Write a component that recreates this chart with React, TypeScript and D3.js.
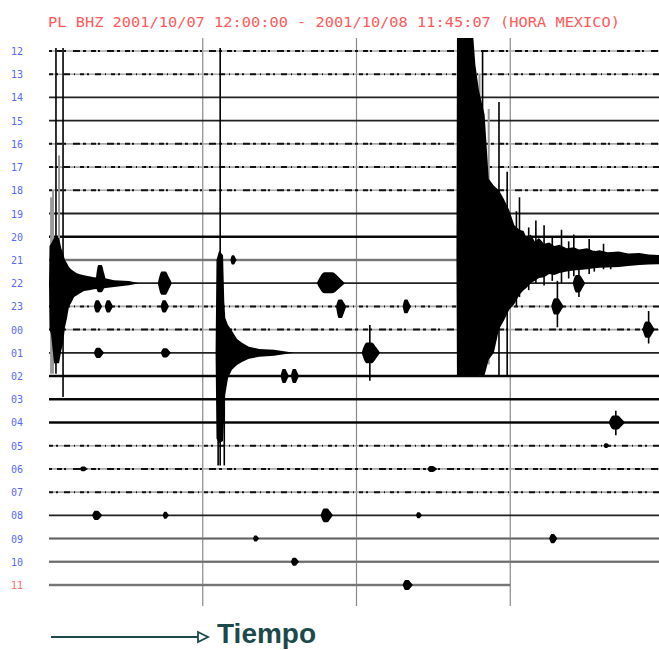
import { useEffect, useRef } from "react"
import * as d3 from "d3"

// hour label of each helicorder line (one line = 60 minutes)
const hours = ["12", "13", "14", "15", "16", "17", "18", "19", "20", "21", "22", "23",
  "00", "01", "02", "03", "04", "05", "06", "07", "08", "09", "10", "11"]
// background noise level of each line: 0 quiet, 1 spotty, 2 steady, 3 strong
const traceNoise = [1, 1, 2, 2, 1, 1, 1, 2, 3, 0, 2, 1, 1, 2, 3, 3, 3, 1, 1, 1, 2, 0, 0, 0]
const lastLineEnd = 45 // minutes recorded on the last line (until 11:45:07)
const gridMinutes = [15, 30, 45]

// big earthquakes: envelope [minute, amplitude up, amplitude down] in line spacings
const quakeLines = ["22", "01", "21"]
const quakeA = [
  [0, 0, 0], [0.05, 1.6, 2.0], [0.2, 1.7, 2.2], [0.49, 1.95, 3.45], [0.98, 1.95, 3.45],
  [1.2, 1.5, 2.9], [1.37, 1.3, 2.6], [1.56, 1.0, 1.9], [1.76, 0.86, 1.5], [1.95, 0.7, 1.0],
  [2.15, 0.6, 0.86], [2.45, 0.5, 0.6], [2.73, 0.43, 0.52], [3.0, 0.38, 0.45], [3.41, 0.34, 0.34],
  [3.9, 0.3, 0.3], [4.39, 0.26, 0.26], [5.37, 0.22, 0.22], [6.34, 0.13, 0.17], [7.8, 0.09, 0.09],
  [8.8, 0, 0],
]
const quakeB = [
  [16.25, 0, 0], [16.34, 4.0, 3.7], [16.6, 4.4, 3.9], [16.98, 4.2, 3.8], [17.1, 2.2, 2.6],
  [17.2, 1.5, 1.8], [17.46, 1.2, 1.1], [17.85, 0.95, 0.73], [18.34, 0.6, 0.52], [18.83, 0.43, 0.39],
  [19.5, 0.26, 0.26], [20.5, 0.17, 0.17], [21.95, 0.13, 0.13], [23.9, 0, 0],
]
const quakeD = [
  [39.75, 0, 0], [39.8, 9.56, 5.0], [41.4, 9.56, 5.0], [41.6, 8.4, 5.0], [41.95, 7.3, 5.0],
  [42.5, 6.25, 4.95], [42.9, 3.5, 4.3], [43.4, 3.2, 4.0], [43.9, 3.0, 3.0], [44.4, 2.6, 2.6],
  [44.9, 2.15, 2.15], [45.4, 1.5, 1.9], [45.9, 1.3, 1.5], [46.3, 1.25, 1.3], [46.6, 0.95, 1.2],
  [47.0, 1.1, 1.0], [47.4, 0.8, 0.9], [47.8, 0.95, 0.78], [48.3, 0.7, 0.75], [48.8, 0.75, 0.6],
  [49.3, 0.6, 0.65], [49.8, 0.65, 0.56], [50.5, 0.5, 0.5], [51.2, 0.55, 0.45], [51.7, 0.45, 0.43],
  [52.5, 0.5, 0.4], [53.2, 0.38, 0.36], [53.7, 0.42, 0.34], [54.5, 0.33, 0.32], [55.6, 0.36, 0.3],
  [56.5, 0.28, 0.26], [57.6, 0.3, 0.22], [58.5, 0.24, 0.2], [60, 0.2, 0.17],
]
const quakeEnvelopes = [quakeA, quakeB, quakeD]

// small events: [line, minute, half duration, amplitude up, amplitude down]
const bursts = [
  ["22", 5.07, 0.55, 0.78, 0.39], ["22", 11.3, 0.68, 0.5, 0.5], ["23", 4.78, 0.4, 0.26, 0.26],
  ["23", 5.85, 0.4, 0.26, 0.26], ["23", 11.3, 0.4, 0.26, 0.26], ["01", 4.88, 0.5, 0.22, 0.22],
  ["01", 11.4, 0.5, 0.2, 0.2], ["22", 27.5, 1.37, 0.47, 0.43], ["23", 28.5, 0.5, 0.3, 0.5],
  ["23", 34.9, 0.4, 0.3, 0.3], ["02", 23.0, 0.4, 0.3, 0.3], ["02", 24.0, 0.4, 0.3, 0.3],
  ["21", 18.0, 0.3, 0.2, 0.2], ["01", 31.4, 0.9, 0.45, 0.45], ["22", 51.7, 0.6, 0.35, 0.4],
  ["23", 49.6, 0.6, 0.35, 0.35], ["00", 58.5, 0.6, 0.35, 0.35], ["04", 55.4, 0.8, 0.3, 0.3],
  ["05", 54.4, 0.3, 0.1, 0.1], ["06", 37.4, 0.5, 0.13, 0.13], ["06", 3.4, 0.4, 0.1, 0.1],
  ["08", 27.1, 0.6, 0.3, 0.3], ["08", 36.1, 0.3, 0.13, 0.13], ["08", 4.7, 0.5, 0.2, 0.2],
  ["08", 11.4, 0.3, 0.15, 0.15], ["09", 20.2, 0.3, 0.13, 0.13], ["09", 49.2, 0.4, 0.2, 0.2],
  ["10", 24.0, 0.4, 0.17, 0.17], ["11", 35.0, 0.5, 0.22, 0.22],
]

// clipped peaks drawn as thin strokes: [minute, from line, to line]
const spikes = [
  [0.68, -0.13, 13.9], [1.37, -0.13, 14.9], [16.7, -0.13, 17.85], [16.5, 15, 17.85], [17.1, 15, 17.85],
  [31.3, 11.8, 14.2], [42.3, 0.04, 14.0], [43.9, 2.2, 14.0], [44.7, 5.2, 14.0], [45.9, 6.3, 10.6],
  [47.5, 7.3, 10.0], [49.6, 9.9, 11.9], [58.5, 11.2, 12.6], [55.3, 15.5, 16.55], [51.7, 9.4, 10.6],
  [48.3, 7.5, 10.1], [50.0, 7.7, 10.0], [51.2, 7.9, 9.7], [52.7, 8.1, 9.6], [54.1, 8.3, 9.4],
  [45.6, 6.9, 11.0], [46.8, 7.6, 10.3], [49.1, 8.0, 9.9], [50.7, 8.2, 9.8], [53.2, 8.6, 9.5],
  [54.8, 8.7, 9.4],
]
const strands = [[0.2, 6.3, 13.9], [0.39, 6.0, 13.9], [0.98, 4.5, 12.0], [42.0, 1.0, 14.0], [42.9, 2.5, 13.5]]

export default function App() {
  const svgRef = useRef(null)

  useEffect(() => {
    if (!svgRef.current) return
    const svg = d3.select(svgRef.current)
    svg.selectAll("*").remove()

    const width = 659
    const height = 650

    const x = d3.scaleLinear().domain([0, 60]).range([49, 664])
    const y = d3.scaleLinear().domain([0, hours.length - 1]).range([51, 585])
    const step = y(1) - y(0)
    const amp = d3.scaleLinear().domain([0, 1]).range([0, step])
    const lineIndex = (h) => hours.indexOf(h)

    const plot = svg.append("g")

    // minute grid
    plot.selectAll("line.grid")
      .data(gridMinutes)
      .enter()
      .append("line")
      .attr("x1", (d) => x(d))
      .attr("x2", (d) => x(d))
      .attr("y1", 38)
      .attr("y2", 606)
      .attr("stroke", "#8a8a8a")
      .attr("stroke-width", 1.2)

    // helicorder lines
    const lineEnd = (i) => x(i === hours.length - 1 ? lastLineEnd : 60)
    const baseColor = ["#8c8c8c", "#a8a8a8", "#222", "#111"]
    const baseWidth = [2.6, 1.6, 1.8, 2.6]
    plot.selectAll("line.trace")
      .data(hours)
      .enter()
      .append("line")
      .attr("x1", x(0))
      .attr("x2", (d, i) => lineEnd(i))
      .attr("y1", (d, i) => y(i))
      .attr("y2", (d, i) => y(i))
      .attr("stroke", (d, i) => baseColor[traceNoise[i]])
      .attr("stroke-width", (d, i) => baseWidth[traceNoise[i]])

    // spotty noise on level-1 lines
    plot.selectAll("line.noise")
      .data(hours.map((h, i) => i).filter((i) => traceNoise[i] === 1))
      .enter()
      .append("line")
      .attr("x1", x(0))
      .attr("x2", (i) => lineEnd(i))
      .attr("y1", (i) => y(i))
      .attr("y2", (i) => y(i))
      .attr("stroke", "#111")
      .attr("stroke-width", 2)
      .attr("stroke-dasharray", (i) => (i % 2 ? "4 3 2 6 6 4 1 5" : "3 5 5 2 2 7 7 3"))

    // core line on strong and quiet lines
    plot.selectAll("line.core")
      .data(hours.map((h, i) => i).filter((i) => traceNoise[i] === 3 || traceNoise[i] === 0))
      .enter()
      .append("line")
      .attr("x1", x(0))
      .attr("x2", (i) => lineEnd(i))
      .attr("y1", (i) => y(i))
      .attr("y2", (i) => y(i))
      .attr("stroke", (i) => (traceNoise[i] === 3 ? "#000" : "#555"))
      .attr("stroke-width", (i) => (traceNoise[i] === 3 ? 1.2 : 0.8))

    // gray strands of clipped traces
    plot.selectAll("line.strand")
      .data(strands)
      .enter()
      .append("line")
      .attr("x1", (d) => x(d[0]))
      .attr("x2", (d) => x(d[0]))
      .attr("y1", (d) => y(d[1]))
      .attr("y2", (d) => y(d[2]))
      .attr("stroke", "#9a9a9a")
      .attr("stroke-width", 2)

    // big earthquakes
    quakeEnvelopes.forEach((env, k) => {
      const base = y(lineIndex(quakeLines[k]))
      const area = d3.area()
        .x((d) => x(d[0]))
        .y0((d) => base + amp(d[2]))
        .y1((d) => base - amp(d[1]))
        .curve(d3.curveLinear)
      plot.append("path").datum(env).attr("d", area).attr("fill", "#000")
    })

    // small events
    const blob = d3.area()
      .x((d) => d[0])
      .y0((d) => d[1])
      .y1((d) => d[2])
      .curve(d3.curveMonotoneX)
    bursts.forEach(([h, m, hw, up, down]) => {
      const base = y(lineIndex(h))
      const pts = [
        [x(m - hw), base, base],
        [x(m - hw * 0.45), base + amp(down), base - amp(up)],
        [x(m + hw * 0.1), base + amp(down), base - amp(up)],
        [x(m + hw * 0.6), base + amp(down) * 0.5, base - amp(up) * 0.5],
        [x(m + hw), base, base],
      ]
      plot.append("path").datum(pts).attr("d", blob).attr("fill", "#000")
    })

    // clipped peaks
    plot.selectAll("line.spike")
      .data(spikes)
      .enter()
      .append("line")
      .attr("x1", (d) => x(d[0]))
      .attr("x2", (d) => x(d[0]))
      .attr("y1", (d) => y(d[1]))
      .attr("y2", (d) => y(d[2]))
      .attr("stroke", "#000")
      .attr("stroke-width", 1.6)

    // hour labels
    svg.selectAll("text.hour")
      .data(hours)
      .enter()
      .append("text")
      .attr("x", 11)
      .attr("y", (d, i) => y(i) + 4)
      .attr("font-family", "DejaVu Sans Mono, monospace")
      .attr("font-size", "10px")
      .attr("fill", (d, i) => (i === hours.length - 1 ? "#ff6b6b" : "#5a68ff"))
      .text((d) => d)

    // title
    svg.append("text")
      .attr("x", 48)
      .attr("y", 27)
      .attr("font-family", "DejaVu Sans Mono, monospace")
      .attr("font-size", "14px")
      .attr("fill", "#ff5a5a")
      .attr("textLength", 572)
      .attr("lengthAdjust", "spacingAndGlyphs")
      .text("PL BHZ 2001/10/07 12:00:00 - 2001/10/08 11:45:07 (HORA MEXICO)")

    // time arrow
    const teal = "#1c4a4a"
    svg.append("line")
      .attr("x1", 51).attr("x2", 198)
      .attr("y1", 637).attr("y2", 637)
      .attr("stroke", teal).attr("stroke-width", 2)
    svg.append("path")
      .attr("d", "M198,632 L208,637 L198,642 Z")
      .attr("fill", "white").attr("stroke", teal).attr("stroke-width", 1.8)
    svg.append("text")
      .attr("x", 217)
      .attr("y", 643)
      .attr("font-family", "Liberation Sans, Arial, sans-serif")
      .attr("font-weight", "bold")
      .attr("font-size", "28px")
      .attr("fill", teal)
      .text("Tiempo")

    svg.attr("width", width).attr("height", height).attr("viewBox", [0, 0, width, height])
  }, [])

  return (
    <svg ref={svgRef} style={{ position: "absolute", left: 0, top: 0, display: "block", background: "white" }}></svg>
  )
}
